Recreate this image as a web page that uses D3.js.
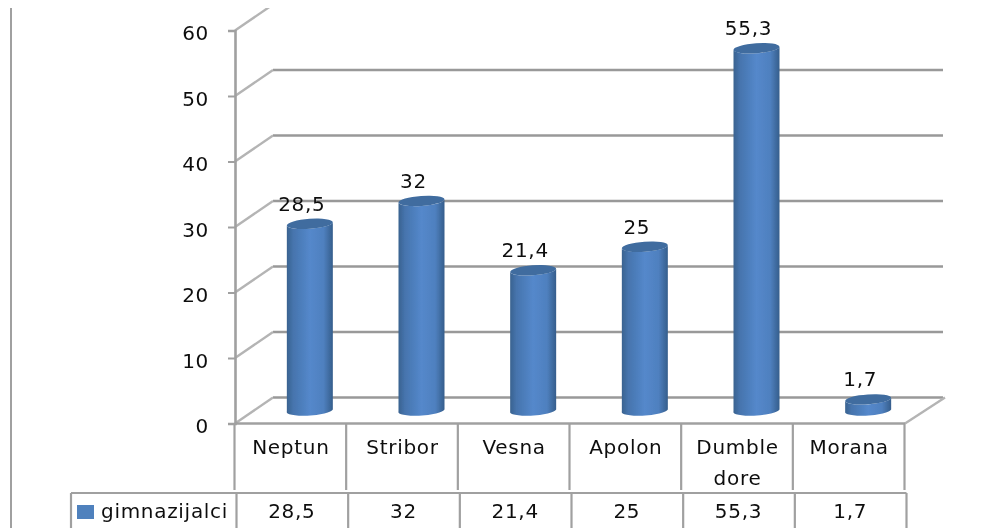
<!DOCTYPE html>
<html>
<head>
<meta charset="utf-8">
<script src="https://cdnjs.cloudflare.com/ajax/libs/d3/7.8.5/d3.min.js"></script>
<style>
html, body { margin: 0; padding: 0; background: #fff; }
svg { display: block; }
text { font-family: "DejaVu Sans", sans-serif; font-size: 20px; fill: #111; letter-spacing: 0.7px; }
</style>
</head>
<body>
<div id="chart"></div>
<script>
const categories = ['Neptun', 'Stribor', 'Vesna', 'Apolon', 'Dumbledore', 'Morana'];
const categoryLines = [['Neptun'], ['Stribor'], ['Vesna'], ['Apolon'], ['Dumble', 'dore'], ['Morana']];
const seriesName = 'gimnazijalci';
const values = [28.5, 32, 21.4, 25, 55.3, 1.7];
const valueLabels = ['28,5', '32', '21,4', '25', '55,3', '1,7'];
const yTicks = [0, 10, 20, 30, 40, 50, 60];

const width = 986, height = 528;
const left = 235, right = 905, depthX = 38, depthY = 26;
const blue = '#4f81bd', gridColor = '#999999', lineColor = '#a0a0a0';

const svg = d3.select('#chart').append('svg')
    .attr('width', width)
    .attr('height', height);

let defs = svg.append('defs');
let soft = defs.append('filter').attr('id', 'soft')
    .attr('filterUnits', 'userSpaceOnUse')
    .attr('x', 0).attr('y', 0).attr('width', width).attr('height', height + 10);
soft.append('feGaussianBlur').attr('stdDeviation', 0.6);

let grad = defs.append('linearGradient').attr('id', 'cyl');
[[0, '#39628f'], [0.14, '#4674ad'], [0.5, '#5488cb'], [0.8, '#4f80bf'], [1, '#355e8c']].forEach(s => {
    grad.append('stop').attr('offset', s[0]).attr('stop-color', s[1]);
});

defs.append('clipPath').attr('id', 'page')
    .append('rect').attr('x', 0).attr('y', 8).attr('width', width).attr('height', height - 8);

let x = d3.scaleBand().domain(categories).range([left, right]);
let y = d3.scaleLinear().domain([0, 60]).range([423.5, 30.5]);

let root = svg.append('g').attr('clip-path', 'url(#page)')
    .append('g').attr('filter', 'url(#soft)');

// outer frame line on the left
root.append('line')
    .attr('x1', 11).attr('x2', 11).attr('y1', 0).attr('y2', height + 5)
    .attr('stroke', lineColor).attr('stroke-width', 2);

let wall = root.append('g');

// back wall gridlines
wall.selectAll('.grid').data(yTicks.filter(d => d < 60)).join('line')
    .attr('class', 'grid')
    .attr('x1', left + depthX).attr('x2', right + depthX)
    .attr('y1', d => y(d) - depthY).attr('y2', d => y(d) - depthY)
    .attr('stroke', gridColor).attr('stroke-width', 2.4);

// side wall diagonals
wall.selectAll('.diag').data(yTicks).join('line')
    .attr('class', 'diag')
    .attr('x1', left).attr('x2', left + depthX)
    .attr('y1', d => y(d)).attr('y2', d => y(d) - depthY)
    .attr('stroke', '#b4b4b4').attr('stroke-width', 2.4);

// floor edge on the right
wall.append('line')
    .attr('x1', right).attr('x2', right + depthX + 2)
    .attr('y1', y(0)).attr('y2', y(0) - depthY)
    .attr('stroke', '#b4b4b4').attr('stroke-width', 2.4);

// y axis
let yAxis = root.append('g')
    .attr('transform', 'translate(' + left + ',0)')
    .call(d3.axisLeft(y).tickValues(yTicks).tickSize(7).tickPadding(19));
yAxis.selectAll('path').attr('stroke', lineColor).attr('stroke-width', 2.6);
yAxis.selectAll('line').attr('stroke', lineColor).attr('stroke-width', 2);
yAxis.selectAll('text')
    .style('font-family', '"DejaVu Sans", sans-serif')
    .style('font-size', '20px')
    .attr('dy', '0.47em');

// table under the plot
let rowOne = { top: y(0), bottom: 490 };
let rowTwo = { top: 493, bottom: height + 5 };
let table = root.append('g');

table.append('line')
    .attr('x1', left).attr('x2', right).attr('y1', rowOne.top).attr('y2', rowOne.top)
    .attr('stroke', lineColor).attr('stroke-width', 2.6);

let rowOneEdges = categories.map(c => x(c)).concat(right);
table.selectAll('.cell1').data(rowOneEdges).join('line')
    .attr('class', 'cell1')
    .attr('x1', d => d - 0.5).attr('x2', d => d - 0.5)
    .attr('y1', rowOne.top).attr('y2', rowOne.bottom)
    .attr('stroke', lineColor).attr('stroke-width', 2.2);

table.selectAll('.cell2').data([71 - 1.5].concat(rowOneEdges)).join('line')
    .attr('class', 'cell2')
    .attr('x1', d => d + 1.5).attr('x2', d => d + 1.5)
    .attr('y1', rowTwo.top).attr('y2', rowTwo.bottom)
    .attr('stroke', lineColor).attr('stroke-width', 2.2);

table.append('line')
    .attr('x1', 71).attr('x2', right + 1.5).attr('y1', rowTwo.top).attr('y2', rowTwo.top)
    .attr('stroke', lineColor).attr('stroke-width', 2.2);

// category labels
let catLabels = table.selectAll('.cat').data(categories).join('text')
    .attr('class', 'cat')
    .attr('text-anchor', 'middle')
    .attr('transform', d => 'translate(' + (x(d) + x.bandwidth() / 2) + ',454)');
catLabels.selectAll('tspan').data((d, i) => categoryLines[i]).join('tspan')
    .attr('x', 0)
    .attr('y', (d, i) => i * 31)
    .text(d => d);

// value row
table.selectAll('.val').data(valueLabels).join('text')
    .attr('class', 'val')
    .attr('text-anchor', 'middle')
    .attr('x', (d, i) => x(categories[i]) + x.bandwidth() / 2 + 1)
    .attr('y', 518)
    .text(d => d);

// legend cell
table.append('rect')
    .attr('x', 77).attr('y', 505).attr('width', 17).attr('height', 14)
    .attr('fill', blue);
table.append('text')
    .attr('x', 101).attr('y', 518)
    .text(seriesName);

// cylinders
const barShiftX = depthX / 2, barShiftY = depthY / 2;
const rx = 23, ry = 5;
let bars = root.append('g');

bars.selectAll('.cyl').data(values).join('path')
    .attr('class', 'cyl')
    .attr('fill', 'url(#cyl)')
    .attr('d', (d, i) => {
        let cx = x(categories[i]) + x.bandwidth() / 2 + barShiftX;
        let top = y(d) - barShiftY, base = y(0) - barShiftY;
        return 'M' + (cx - rx) + ',' + (top + 1.5) +
            'L' + (cx - rx) + ',' + (base + 1) +
            'A' + rx + ',' + ry + ' -4 0 0 ' + (cx + rx) + ',' + (base - 1) +
            'L' + (cx + rx) + ',' + (top - 1.5) +
            'A' + rx + ',' + ry + ' -4 0 1 ' + (cx - rx) + ',' + (top + 1.5) + 'Z';
    });

bars.selectAll('.cap').data(values).join('ellipse')
    .attr('class', 'cap')
    .attr('fill', '#3f6c9f')
    .attr('rx', rx)
    .attr('ry', ry)
    .attr('transform', (d, i) => {
        let cx = x(categories[i]) + x.bandwidth() / 2 + barShiftX;
        return 'translate(' + cx + ',' + (y(d) - barShiftY) + ') rotate(-4)';
    });

// data labels
root.selectAll('.lab').data(values).join('text')
    .attr('class', 'lab')
    .attr('text-anchor', 'middle')
    .attr('x', (d, i) => x(categories[i]) + x.bandwidth() / 2 + barShiftX - 8)
    .attr('y', d => y(d) - barShiftY - 13)
    .text((d, i) => valueLabels[i]);
</script>
</body>
</html>
